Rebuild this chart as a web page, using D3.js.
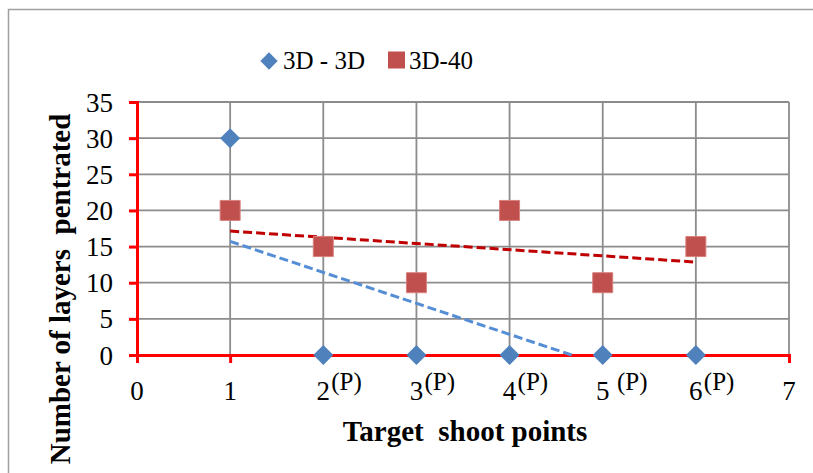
<!DOCTYPE html>
<html>
<head>
<meta charset="utf-8">
<script src="https://cdn.jsdelivr.net/npm/d3@7"></script>
<style>
  body { margin: 0; background: #fff; }
  svg { display: block; }
</style>
</head>
<body>
<div id="chart"></div>
<script>
// chart data
var xPoints = [1, 2, 3, 4, 5, 6];
var series3d3d = [30, 0, 0, 0, 0, 0];
var series3d40 = [20, 15, 10, 20, 10, 15];
var seriesNames = ["3D - 3D", "3D-40"];
var xTicks = [0, 1, 2, 3, 4, 5, 6, 7];
var xTickSup = ["", "", "(P)", "(P)", "(P)", " (P)", "(P)", ""];
var yTicks = [0, 5, 10, 15, 20, 25, 30, 35];

var svgWidth = 813;
var svgHeight = 473;

var svg = d3.select("#chart")
  .append("svg")
  .attr("width", svgWidth)
  .attr("height", svgHeight);

// outer frame
svg.append("rect")
  .attr("x", 8.5)
  .attr("y", 9.5)
  .attr("width", 830)
  .attr("height", 500)
  .attr("fill", "none")
  .attr("stroke", "#a0a0a0")
  .attr("stroke-width", 1.5);

var xScale = d3.scaleLinear().domain([0, 7]).range([137, 789]);
var yScale = d3.scaleLinear().domain([0, 35]).range([355, 102]);

// grid lines
var grid = svg.append("g");
grid.selectAll("line.h")
  .data(yTicks.filter(d => d > 0))
  .enter()
  .append("line")
  .attr("x1", xScale(0))
  .attr("x2", xScale(7))
  .attr("y1", d => yScale(d))
  .attr("y2", d => yScale(d))
  .attr("stroke", "#8c8c8c")
  .attr("stroke-width", 1.8);

grid.selectAll("line.v")
  .data(xTicks.filter(d => d > 0))
  .enter()
  .append("line")
  .attr("x1", d => xScale(d))
  .attr("x2", d => xScale(d))
  .attr("y1", yScale(35))
  .attr("y2", yScale(0))
  .attr("stroke", "#8c8c8c")
  .attr("stroke-width", 1.8);

// axes in red
var leftAxis = d3.axisLeft(yScale).tickValues(yTicks).tickSize(8).tickFormat("");
var bottomAxis = d3.axisBottom(xScale).tickValues(xTicks).tickSize(8).tickFormat("");

var yAxisG = svg.append("g")
  .attr("transform", `translate(${xScale(0)}, 0)`)
  .call(leftAxis);
var xAxisG = svg.append("g")
  .attr("transform", `translate(0, ${yScale(0)})`)
  .call(bottomAxis);

[yAxisG, xAxisG].forEach(g => {
  g.select(".domain").attr("stroke", "#ff0000").attr("stroke-width", 3);
  g.selectAll(".tick line").attr("stroke", "#ff0000").attr("stroke-width", 3);
});

// tick labels
svg.append("g").selectAll("text")
  .data(yTicks)
  .enter()
  .append("text")
  .attr("x", 113)
  .attr("y", d => yScale(d) + 9.5)
  .attr("text-anchor", "end")
  .attr("font-family", "Liberation Serif")
  .attr("font-size", 27)
  .attr("fill", "#000")
  .text(d => d);

var xLab = svg.append("g").selectAll("g")
  .data(xTicks)
  .enter()
  .append("g");

xLab.append("text")
  .attr("x", d => xScale(d))
  .attr("y", 400)
  .attr("text-anchor", "middle")
  .attr("font-family", "Liberation Serif")
  .attr("font-size", 27)
  .attr("fill", "#000")
  .text(d => d);

xLab.append("text")
  .attr("x", d => xScale(d) + 8)
  .attr("y", 390)
  .attr("text-anchor", "start")
  .attr("font-family", "Liberation Serif")
  .attr("font-size", 25)
  .attr("fill", "#000")
  .style("white-space", "pre")
  .text((d, i) => xTickSup[i]);

// axis titles
svg.append("text")
  .attr("x", 465)
  .attr("y", 441)
  .attr("text-anchor", "middle")
  .attr("font-family", "Liberation Serif")
  .attr("font-weight", "bold")
  .attr("font-size", 29)
  .style("white-space", "pre")
  .text("Target  shoot points");

svg.append("text")
  .attr("text-anchor", "middle")
  .attr("transform", `translate(70, 289)rotate(-90)`)
  .attr("font-family", "Liberation Serif")
  .attr("font-weight", "bold")
  .attr("font-size", 29)
  .style("white-space", "pre")
  .text("Number of layers  pentrated");

// linear trend lines (least squares)
function trend(xs, ys) {
  var mx = d3.mean(xs), my = d3.mean(ys);
  var sxy = d3.sum(xs, (x, i) => (x - mx) * (ys[i] - my));
  var sxx = d3.sum(xs, x => (x - mx) * (x - mx));
  var b = sxy / sxx;
  return { b: b, a: my - b * mx };
}

function trendPoints(xs, ys) {
  var t = trend(xs, ys);
  var x0 = d3.min(xs), x1 = d3.max(xs);
  var pts = [[x0, t.a + t.b * x0], [x1, t.a + t.b * x1]];
  // clip at the axis minimum
  if (pts[1][1] < 0) {
    var xz = -t.a / t.b;
    pts[1] = [xz, 0];
  }
  return pts;
}

var line = d3.line().x(d => xScale(d[0])).y(d => yScale(d[1]));

svg.append("path")
  .datum(trendPoints(xPoints, series3d40))
  .attr("d", line)
  .attr("fill", "none")
  .attr("stroke", "#c00000")
  .attr("stroke-width", 3)
  .attr("stroke-dasharray", "9,4");

svg.append("path")
  .datum(trendPoints(xPoints, series3d3d))
  .attr("d", line)
  .attr("fill", "none")
  .attr("stroke", "#558ed5")
  .attr("stroke-width", 3)
  .attr("stroke-dasharray", "9,4");

// markers
var diamond = d3.symbol().type(d3.symbolSquare).size(200);
var square = d3.symbol().type(d3.symbolSquare).size(400);

svg.append("g").selectAll("path")
  .data(series3d3d)
  .enter()
  .append("path")
  .attr("d", diamond)
  .attr("transform", (d, i) => `translate(${xScale(xPoints[i])}, ${yScale(d)})rotate(45)`)
  .attr("fill", "#4f81bd");

svg.append("g").selectAll("path")
  .data(series3d40)
  .enter()
  .append("path")
  .attr("d", square)
  .attr("transform", (d, i) => `translate(${xScale(xPoints[i])}, ${yScale(d)})`)
  .attr("fill", "#c0504d")
  .attr("stroke", "#d9807e")
  .attr("stroke-width", 1);

// legend
var legend = svg.append("g");
legend.append("path")
  .attr("d", d3.symbol().type(d3.symbolSquare).size(150))
  .attr("transform", "translate(269, 61)rotate(45)")
  .attr("fill", "#4f81bd");
legend.append("text")
  .attr("x", 283)
  .attr("y", 69)
  .attr("font-family", "Liberation Serif")
  .attr("font-size", 25)
  .text(seriesNames[0]);

legend.append("path")
  .attr("d", d3.symbol().type(d3.symbolSquare).size(289))
  .attr("transform", "translate(396.5, 60)")
  .attr("fill", "#c0504d");
legend.append("text")
  .attr("x", 409)
  .attr("y", 69)
  .attr("font-family", "Liberation Serif")
  .attr("font-size", 25)
  .text(seriesNames[1]);
</script>
</body>
</html>
